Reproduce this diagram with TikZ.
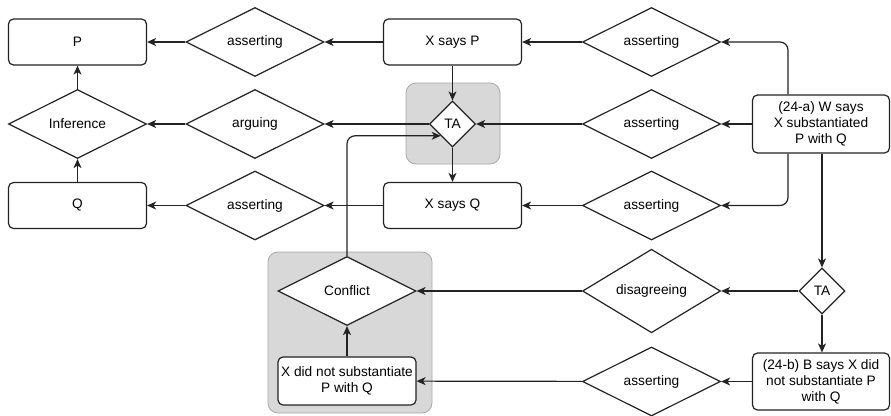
\documentclass[tikz,border=0pt]{standalone}
\usepackage{fontspec}
\setmainfont{Liberation Sans}
\usetikzlibrary{arrows.meta,shapes.geometric}
\definecolor{ArgLine}{RGB}{35,35,35}
\definecolor{ArgGrey}{RGB}{216,216,216}
\definecolor{ArgGreyRule}{RGB}{168,168,168}
\newcommand{\argfont}{\fontsize{13.7}{16}\selectfont}

\begin{document}
\begin{tikzpicture}[x=1pt,y=-1pt,
    box/.style={draw=ArgLine,fill=white,line width=1.2pt,rounded corners=5pt,minimum width=138pt,minimum height=46pt,inner sep=2pt,align=center,font=\argfont},
    dia/.style={draw=ArgLine,fill=white,line width=1.2pt,diamond,minimum width=138pt,minimum height=69pt,inner sep=0pt,align=center,font=\argfont},
    ta/.style={dia,minimum width=46pt,minimum height=46pt},
    group/.style={draw=ArgGreyRule,fill=ArgGrey,line width=0.8pt,rounded corners=10pt},
    arr/.style={-{Stealth[length=9pt,width=8pt,inset=2.5pt]},line width=1.2pt,draw=ArgLine,rounded corners=8pt}
  ]
    \useasboundingbox (0,0) rectangle (891,415);
    % grey groups
    \draw[group] (406,83) rectangle (500,164);
    \draw[group] (268,252) rectangle (432,413);
    % top row
    \node[box] (p) at (77.5,42) {P};
    \node[dia] (assertp) at (255,42) {asserting};
    \node[box] (xp) at (452.5,42) {X says P};
    \node[dia] (assertxp) at (651.5,42) {asserting};
    % middle row
    \node[dia] (inference) at (77.5,124) {Inference};
    \node[dia] (arguing) at (255,124) {arguing};
    \node[ta] (ta1) at (452.5,124) {TA};
    \node[dia] (assertta) at (651.5,124) {asserting};
    \node[box,minimum width=137pt,minimum height=58pt] (wsays) at (821,124) {(24-a) W says\\X substantiated\\P with Q};
    % third row
    \node[box] (q) at (77.5,205.5) {Q};
    \node[dia] (assertq) at (255,205.5) {asserting};
    \node[box] (xq) at (452.5,205.5) {X says Q};
    \node[dia] (assertxq) at (651.5,205.5) {asserting};
    % lower part
    \node[dia] (conflict) at (347,291) {Conflict};
    \node[dia] (disagree) at (651.5,291) {disagreeing};
    \node[ta] (ta2) at (822,291) {TA};
    \node[box,minimum height=48pt] (notsub) at (347,381) {X did not substantiate\\P with Q};
    \node[dia] (assertb) at (651.5,381.5) {asserting};
    \node[box,minimum width=137pt,minimum height=57pt] (bsays) at (821,381.5) {(24-b) B says X did\\not substantiate P\\with Q};

    \draw[arr] (assertp) -- (p);
    \draw[arr] (xp) -- (assertp);
    \draw[arr] (assertxp) -- (xp);
    \draw[arr] ([xshift=-33pt]wsays.north) |- (assertxp.east);
    \draw[arr] (wsays) -- (assertta);
    \draw[arr] (assertta) -- (ta1);
    \draw[arr] (ta1) -- (arguing);
    \draw[arr] (arguing) -- (inference);
    \draw[arr] (inference) -- (p);
    \draw[arr] (q) -- (inference);
    \draw[arr] (xp) -- (ta1);
    \draw[arr] (ta1) -- (xq);
    \draw[arr] ([xshift=-33pt]wsays.south) |- (assertxq.east);
    \draw[arr] (assertxq) -- (xq);
    \draw[arr] (xq) -- (assertq);
    \draw[arr] (assertq) -- (q);
    \draw[arr] (wsays.south -| ta2.north) -- (ta2.north);
    \draw[arr] (ta2) -- (disagree);
    \draw[arr] (disagree) -- (conflict);
    \draw[arr] (ta2.south) -- (ta2.south |- bsays.north);
    \draw[arr] (bsays) -- (assertb);
    \draw[arr] (assertb) -- (notsub);
    \draw[arr] (notsub) -- (conflict);
    \draw[arr] (conflict.north) |- (ta1.south west);
  \end{tikzpicture}
\end{document}
